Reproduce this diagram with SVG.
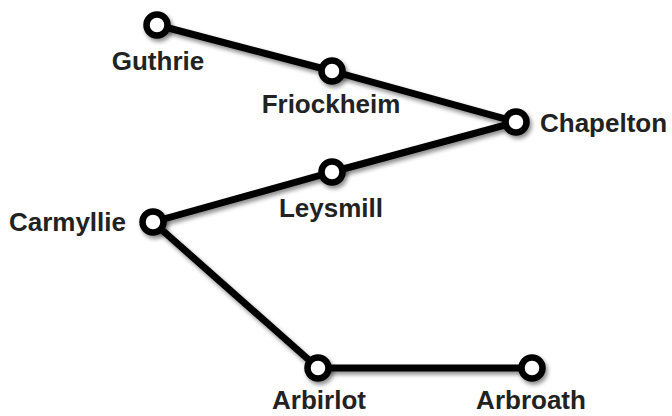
<svg xmlns="http://www.w3.org/2000/svg" width="672" height="416" viewBox="0 0 672 416">
<defs>
<filter id="sh" x="-50%" y="-50%" width="200%" height="200%">
<feDropShadow dx="2" dy="3" stdDeviation="2" flood-color="#000" flood-opacity="0.45"/>
</filter>
<style>
.e{stroke:#000;stroke-width:7;fill:none;stroke-linecap:round}
.n{fill:#fff;stroke:#000;stroke-width:6.5;filter:url(#sh)}
text{font-family:"Liberation Sans",Arial,sans-serif;font-weight:bold;font-size:26px;fill:#222}
.m{text-anchor:middle}
</style>
</defs>
<rect width="672" height="416" fill="#fff"/>
<g id="connectors" filter="url(#sh)">
<line class="e" x1="157" y1="25" x2="332" y2="71"/>
<line class="e" x1="332" y1="71" x2="516" y2="122"/>
<line class="e" x1="516" y1="122" x2="332" y2="172"/>
<line class="e" x1="332" y1="172" x2="153" y2="222"/>
<line class="e" x1="153" y1="222" x2="318" y2="368"/>
<line class="e" x1="318" y1="368" x2="532" y2="368"/>
</g>
<g id="Guthrie"><circle class="n" cx="157" cy="25" r="10.5"/><text class="m" x="158" y="70">Guthrie</text></g>
<g id="Friockheim"><circle class="n" cx="332" cy="71" r="10.5"/><text class="m" x="331" y="113">Friockheim</text></g>
<g id="Chapelton"><circle class="n" cx="516" cy="122" r="10.5"/><text x="540" y="132">Chapelton</text></g>
<g id="Leysmill"><circle class="n" cx="332" cy="172" r="10.5"/><text class="m" x="331" y="217">Leysmill</text></g>
<g id="Carmyllie"><circle class="n" cx="153" cy="222" r="10.5"/><text text-anchor="end" x="126" y="231">Carmyllie</text></g>
<g id="Arbirlot"><circle class="n" cx="318" cy="368" r="10.5"/><text class="m" x="319" y="409">Arbirlot</text></g>
<g id="Arbroath"><circle class="n" cx="532" cy="368" r="10.5"/><text class="m" x="531" y="409">Arbroath</text></g>
</svg>
